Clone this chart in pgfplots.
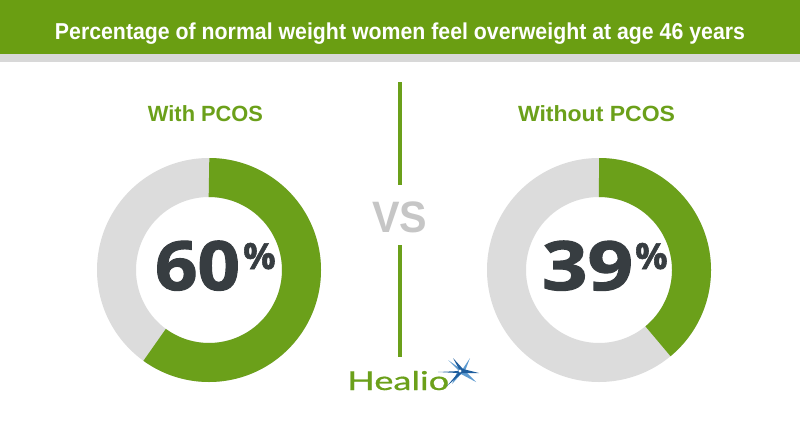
\documentclass[border=0pt]{standalone}
\usepackage{pgfplots}
\pgfplotsset{compat=1.18}
\usepackage{pgfplotstable}
\usepackage{graphicx}
\usepackage{fontspec}
\setmainfont{Liberation Sans}
\newfontfamily\numfont[BoldFeatures={FakeBold=1.6}]{Open Sans}
\newfontfamily\logofont[FakeBold=0.6]{Lato}
\definecolor{titlegreen}{HTML}{6A9E12}
\definecolor{ringgreen}{HTML}{6BA01A}
\definecolor{ringgray}{HTML}{DCDCDC}
\definecolor{stripe}{HTML}{D8D8D8}
\definecolor{numdark}{HTML}{373D41}
\definecolor{vsgray}{HTML}{C6C6C6}
\definecolor{starblue}{HTML}{1F5E9E}
\definecolor{starlight}{HTML}{5C9AD0}

\pgfplotstableread{
label value
With 60
Without 39
}\donutdata

\begin{document}
\begin{tikzpicture}[x=1bp,y=1bp]
\useasboundingbox (0,0) rectangle (800,420);
\fill[white] (0,0) rectangle (800,420);
% title bar
\fill[titlegreen] (0,366) rectangle (800,420);
\fill[stripe] (0,358) rectangle (800,366);
\node[anchor=base, inner sep=0, text=white, font={\bfseries\fontsize{23bp}{26bp}\selectfont}] at (400,381)
  {\resizebox{690bp}{\height}{Percentage of normal weight women feel overweight at age 46 years}};

% group labels
\node[anchor=base, inner sep=0, text=ringgreen, font={\bfseries\fontsize{22bp}{26bp}\selectfont}] at (205.5,299)
  {\resizebox{115bp}{\height}{With PCOS}};
\node[anchor=base, inner sep=0, text=ringgreen, font={\bfseries\fontsize{22bp}{26bp}\selectfont}] at (596.5,299)
  {\resizebox{157bp}{\height}{Without PCOS}};

% values
\pgfplotstablegetelem{0}{value}\of\donutdata
\pgfmathsetmacro\startA{90-3.6*\pgfplotsretval}
\pgfplotstablegetelem{1}{value}\of\donutdata
\pgfmathsetmacro\startB{90-3.6*\pgfplotsretval}

\pgfplotsset{donut/.style={at={(#1,150)}, anchor=center, width=224bp, height=224bp,
  scale only axis, hide axis, xmin=-112, xmax=112, ymin=-112, ymax=112, clip=false}}

\begin{axis}[donut=209]
\addplot[ringgray, line width=39bp, line join=round, domain=0:360, samples=181, no markers] ({92.5*cos(x)},{92.5*sin(x)});
\addplot[ringgreen, line width=39bp, line cap=butt, line join=round, domain=\startA:90, samples=121, no markers] ({92.5*cos(x)},{92.5*sin(x)});
\end{axis}
\begin{axis}[donut=599]
\addplot[ringgray, line width=39bp, line join=round, domain=0:360, samples=181, no markers] ({92.5*cos(x)},{92.5*sin(x)});
\addplot[ringgreen, line width=39bp, line cap=butt, line join=round, domain=\startB:90, samples=121, no markers] ({92.5*cos(x)},{92.5*sin(x)});
\end{axis}

% center numbers
\node[anchor=base, inner sep=0, text=numdark, font={\numfont\bfseries\fontsize{68bp}{68bp}\selectfont}] at (197.5,130) {\resizebox{85bp}{\height}{60}};
\node[anchor=base west, inner sep=0, text=numdark, font={\numfont\bfseries\fontsize{36bp}{36bp}\selectfont}] at (243,151) {\%};
\node[anchor=base, inner sep=0, text=numdark, font={\numfont\bfseries\fontsize{68bp}{68bp}\selectfont}] at (587.5,130) {\resizebox{91bp}{\height}{39}};
\node[anchor=base west, inner sep=0, text=numdark, font={\numfont\bfseries\fontsize{36bp}{36bp}\selectfont}] at (635,151) {\%};

% VS and divider
\draw[ringgreen, line width=3.5bp] (400,338) -- (400,235);
\draw[ringgreen, line width=3.5bp] (400,175) -- (400,63);
\node[anchor=base, inner sep=0, text=vsgray, font={\bfseries\fontsize{44bp}{44bp}\selectfont}] at (399.5,188) {\resizebox{55bp}{\height}{VS}};

% Healio logo
\node[anchor=base west, inner sep=0, text=ringgreen, font={\logofont\fontsize{26bp}{26bp}\selectfont}] at (347,30) {\resizebox{102bp}{\height}{Healio}};
\fill[starlight] (462,50) -- (470,62) -- (465,49) -- (476,38) -- (461,46) -- (452,36) -- (458,50) -- (448,60) -- cycle;
\fill[starblue] (460,49) -- (453,62) -- (463,51) -- (479,47) -- (462,47) -- (447,34) -- (458,47) -- (438,48) -- cycle;
\fill[white] (460,49) circle (1.6);
\end{tikzpicture}
\end{document}
